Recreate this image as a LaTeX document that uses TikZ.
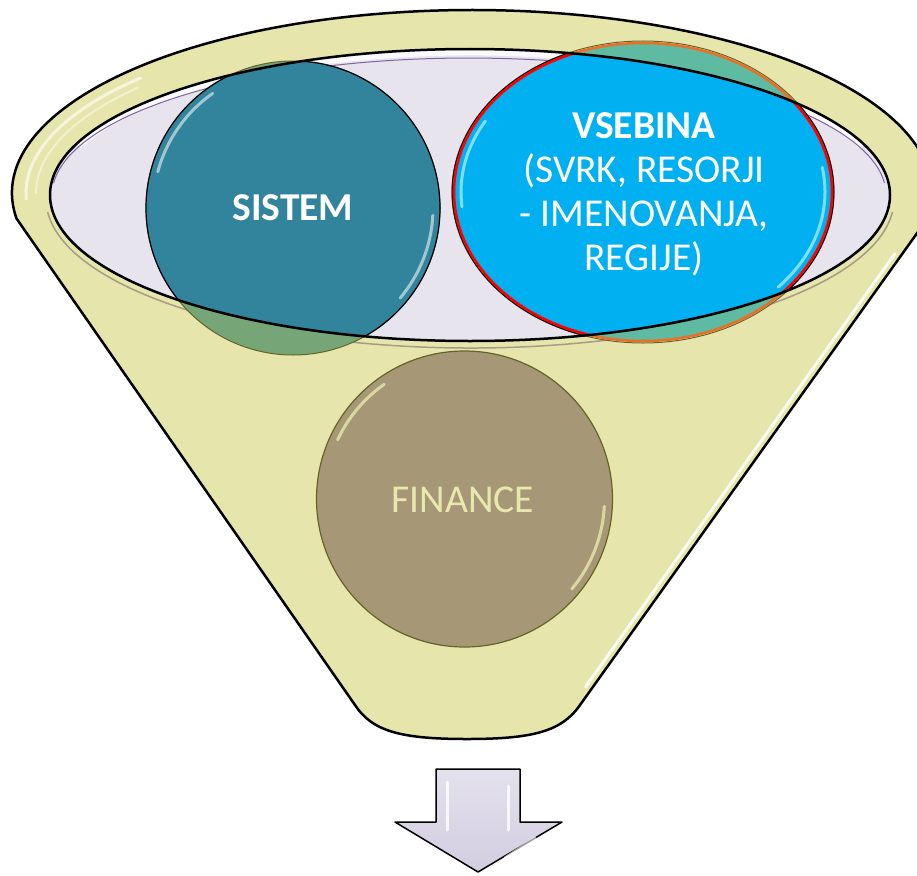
\documentclass[tikz,border=0pt]{standalone}
\usepackage{fontspec}
\setmainfont{Carlito}
\usetikzlibrary{shapes.geometric}
\definecolor{funnelY}{RGB}{230,230,172}
\definecolor{mouthL}{RGB}{232,228,238}
\definecolor{tealS}{RGB}{49,132,155}
\definecolor{tealT}{RGB}{118,166,120}
\definecolor{blueV}{RGB}{0,176,240}
\definecolor{blueT}{RGB}{94,186,160}
\definecolor{orangeT}{RGB}{232,112,40}
\definecolor{finF}{RGB}{166,152,118}
\definecolor{finT}{RGB}{232,232,172}
\definecolor{oliveL}{RGB}{100,100,40}
\definecolor{purpleL}{RGB}{128,100,162}
\definecolor{grayL}{RGB}{165,155,135}
\definecolor{arrowTop}{RGB}{228,225,238}
\definecolor{arrowBot}{RGB}{210,205,224}
\definecolor{cyanH}{RGB}{140,228,255}
\begin{document}
\begin{tikzpicture}[x=1pt,y=-1pt,
  bigfont/.style={font=\fontsize{39.5}{44}\selectfont, inner sep=0pt},
  hl/.style={white, line width=3pt, line cap=round, opacity=0.7}]
\clip (0,0) rectangle (917,875);
\fill[white] (0,0) rectangle (917,875);

% funnel body
\path[draw=black, line width=2.5pt, fill=funnelY, line join=round]
 (16.48,218.47) arc[start angle=172, end angle=368, x radius=460, y radius=183]
 -- (580,705) .. controls (562,731) and (534,739) .. (467,739)
 .. controls (400,739) and (372,731) .. (355,705) -- cycle;

% funnel highlights
\draw[hl, opacity=0.85] (894.8,253.9) -- (585.5,686.9);
\draw[hl, opacity=0.6] (472,193) ++(178:446 and 172) arc[start angle=178, end angle=222, x radius=446, y radius=172];
\draw[hl, opacity=0.45, line width=2pt] (472,193) ++(180:436 and 164) arc[start angle=180, end angle=220, x radius=436, y radius=164];

% mouth
\draw[grayL, line width=1.5pt] (892.4,212) arc[start angle=5, end angle=175, x radius=424, y radius=149];
\fill[mouthL] (470,195) ellipse[x radius=420, y radius=146];
\begin{scope}
  \clip (470,195) ellipse[x radius=420, y radius=146];
  \draw[white, line width=5pt, opacity=0.8] (79.1,146.4) arc[start angle=200, end angle=340, x radius=416, y radius=142];
  \draw[purpleL, line width=1pt] (53.6,183.1) arc[start angle=185, end angle=355, x radius=417, y radius=137];
\end{scope}

% SISTEM (tinted part under funnel)
\fill[tealT] (293,208) circle[radius=147];
\draw[oliveL, line width=1pt] (293,208) circle[radius=147];
% VSEBINA (tinted part under funnel)
\fill[blueT] (643,192) ellipse[x radius=189, y radius=149];
\draw[oliveL, line width=1pt] (643,192) ellipse[x radius=191, y radius=151];
\draw[orangeT, line width=2.6pt] (643,192) ellipse[x radius=189, y radius=149];

\begin{scope}
  \clip (470,195) ellipse[x radius=420, y radius=146];
  \node[circle, minimum size=294pt, inner sep=0pt, fill=tealS, draw=black, line width=1.2pt] (sistem) at (293,208) {};
  \draw[hl, opacity=0.55] (157.8,171.8) arc[start angle=195, end angle=235, radius=140];
  \draw[hl, opacity=0.55] (432.8,215.3) arc[start angle=3, end angle=40, radius=140];
  \node[ellipse, minimum width=378pt, minimum height=298pt, inner sep=0pt, fill=blueV] (vsebina) at (643,192) {};
  \draw[cyanH, line width=3pt, line cap=round, opacity=0.9] (643,192) ++(174:182 and 142) arc[start angle=174, end angle=210, x radius=182, y radius=142];
  \draw[cyanH, line width=3pt, line cap=round, opacity=0.9] (643,192) ++(-10:182 and 142) arc[start angle=-10, end angle=42, x radius=182, y radius=142];
  \draw[black, line width=1.2pt] (643,192) ellipse[x radius=190.8, y radius=150.8];
  \draw[red, line width=2.6pt] (vsebina.center) ellipse[x radius=189, y radius=149];
\end{scope}

% mouth outline
\draw[black, line width=2.5pt] (470,195) ellipse[x radius=420, y radius=146];

% FINANCE
\node[circle, minimum size=296pt, inner sep=0pt, fill=finF, draw=oliveL, line width=1.2pt] (finance) at (464.5,499) {};
\draw[line width=3pt, line cap=round, color=finT, opacity=0.8] (finance.center) ++(205:140) arc[start angle=205, end angle=235, radius=140];
\draw[line width=3pt, line cap=round, color=finT, opacity=0.8] (finance.center) ++(3:140) arc[start angle=3, end angle=40, radius=140];

% texts
\node[bigfont, font=\fontsize{39.5}{44}\selectfont\bfseries, text=white, anchor=base] (sistemtxt) at (293,220) {SISTEM};
\node[bigfont, text=white, align=center, anchor=base] (vsebinatxt) at (644,270) {\textbf{VSEBINA}\\(SVRK, RESORJI\\- IMENOVANJA,\\REGIJE)};
\node[bigfont, text=finT, anchor=base] (financetxt) at (463,512) {FINANCE};

% down arrow
\path[draw=black, line width=1.5pt, line join=round, top color=arrowTop, bottom color=arrowBot]
  (436,769) -- (520,769) -- (520,822) -- (562,822) -- (478,872) -- (395,822) -- (436,822) -- cycle;
\draw[hl, opacity=0.8] (447,782) -- (447,830);
\draw[hl, opacity=0.8] (508,786) -- (508,830);
\draw[hl, opacity=0.6] (535,838) -- (505,858);
\end{tikzpicture}
\end{document}
